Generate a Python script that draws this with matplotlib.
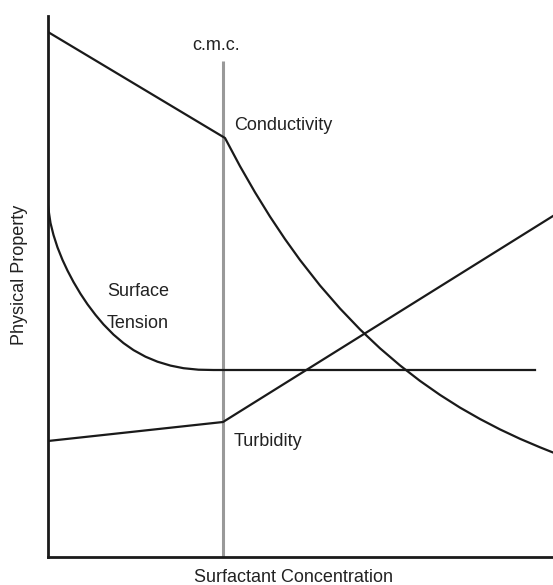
import matplotlib
matplotlib.use("Agg")
import matplotlib.pyplot as plt

plt.rcParams['font.family'] = ['Liberation Sans', 'DejaVu Sans']

# Coordinates (arbitrary units: x 0..505, y 0..541)
cmc_x = 175
cmc_top = 496

conductivity_x = [0, 177, 192, 207, 222, 237, 252, 272, 292, 312, 332, 352, 372,
                  392, 412, 432, 452, 472, 492, 505]
conductivity_y = [525, 419, 390.8, 364.7, 340.4, 317.9, 297, 271.5, 248.5, 227.6, 208.7,
                  191.6, 176.1, 162.1, 149.4, 138, 127.6, 118.2, 109.7, 104.5]

surface_x = [0, 1, 2.5, 5.5, 9.5, 14.5, 19.5, 25.5, 32.5, 39.5, 47.5, 55.5, 65.5, 75.5,
             85.5, 97.5, 109.5, 122.5, 135.5, 150.5, 165.5, 177, 487]
surface_y = [352, 344, 334, 322, 309.6, 297.1, 286.4, 275, 263.2, 252.7, 242.1, 232.6,
             222.4, 213.9, 206.9, 200.3, 195.3, 191.4, 188.8, 187.3, 187, 187, 187]

turbidity_x = [0, 175, 505]
turbidity_y = [116, 135, 341]

labels = ["Conductivity", "Surface", "Tension", "Turbidity", "c.m.c."]
label_pos = [(186, 432), (59, 266), (59, 234), (186, 116), (168, 512)]

fig = plt.figure(figsize=(5.53, 5.85), dpi=100)
ax = fig.add_axes([48/553, 28/585, 505/553, 541/585])
ax.set_xlim(0, 505)
ax.set_ylim(0, 541)

for s in ['top', 'right']:
    ax.spines[s].set_visible(False)
for s in ['left', 'bottom']:
    ax.spines[s].set_linewidth(2)
    ax.spines[s].set_color('#1a1a1a')
ax.set_xticks([])
ax.set_yticks([])

ax.plot([cmc_x, cmc_x], [0, cmc_top], color='#999999', lw=2.2, zorder=1, solid_capstyle='butt')

kw = dict(color='#1a1a1a', lw=1.6, zorder=2, solid_joinstyle='round')
ax.plot(conductivity_x, conductivity_y, **kw)
ax.plot(surface_x, surface_y, **kw)
ax.plot(turbidity_x, turbidity_y, **kw)

for i, (lab, (x, y)) in enumerate(zip(labels, label_pos)):
    ax.text(x, y, lab, ha='center' if lab == "c.m.c." else 'left', va='center',
            fontsize=13, color='#222222')

fig.text(293/553, 1 - 577/585, "Surfactant Concentration", ha='center', va='center', fontsize=13, color='#222222')
fig.text(20/553, 1 - 275/585, "Physical Property", ha='center', va='center', rotation=90, fontsize=13, color='#222222')

fig.savefig("out.png", dpi=100)
